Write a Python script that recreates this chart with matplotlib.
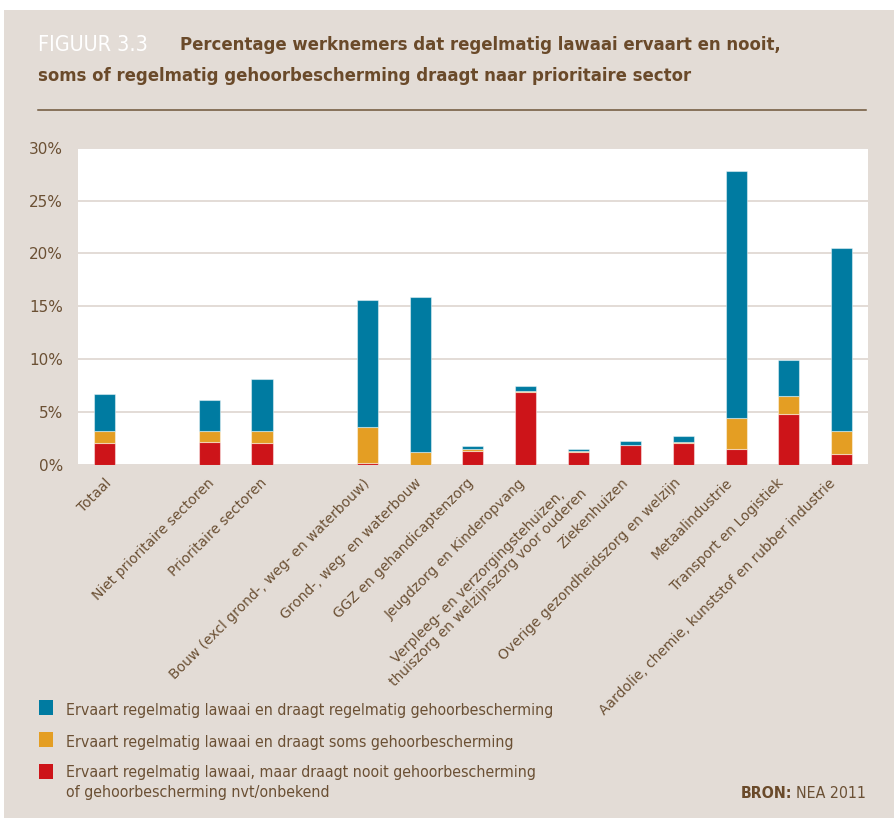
import matplotlib
matplotlib.use("Agg")
import matplotlib.pyplot as plt
from matplotlib.patches import Rectangle
from matplotlib.lines import Line2D
from matplotlib.transforms import ScaledTranslation
import numpy as np

# ---- data (percent of employees) ----
categories = [
    "Totaal",
    "Niet prioritaire sectoren",
    "Prioritaire sectoren",
    "Bouw (excl grond-, weg- en waterbouw)",
    "Grond-, weg- en waterbouw",
    "GGZ en gehandicaptenzorg",
    "Jeugdzorg en Kinderopvang",
    "Verpleeg- en verzorgingstehuizen,\nthuiszorg en welzijnszorg voor ouderen",
    "Ziekenhuizen",
    "Overige gezondheidszorg en welzijn",
    "Metaalindustrie",
    "Transport en Logistiek",
    "Aardolie, chemie, kunststof en rubber industrie",
]
# indices where a new block of bars starts (an empty slot precedes it)
group_starts = [1, 3]

nooit = [2.1, 2.2, 2.1, 0.15, 0.0, 1.35, 6.9, 1.25, 1.85, 2.05, 1.5, 4.8, 1.0]
soms = [1.15, 1.05, 1.15, 3.4, 1.25, 0.15, 0.05, 0.1, 0.05, 0.1, 2.9, 1.75, 2.25]
regelmatig = [3.5, 2.9, 4.9, 12.05, 14.6, 0.3, 0.5, 0.15, 0.4, 0.6, 23.4, 3.4, 17.25]

series_labels = [
    "Ervaart regelmatig lawaai en draagt regelmatig gehoorbescherming",
    "Ervaart regelmatig lawaai en draagt soms gehoorbescherming",
    "Ervaart regelmatig lawaai, maar draagt nooit gehoorbescherming\nof gehoorbescherming nvt/onbekend",
]
yticks = [0, 5, 10, 15, 20, 25, 30]

# ---- style ----
BG = "#e3dcd6"
BROWN = "#6b5034"
TITLE_BROWN = "#6a4a2a"
BLUE = "#007ba1"
ORANGE = "#e49e23"
RED = "#cd1419"
NARROW = ["Liberation Sans Narrow", "DejaVu Sans"]

W, H = 894, 822
fig = plt.figure(figsize=(W / 100, H / 100), dpi=100, facecolor="white")
renderer = fig.canvas.get_renderer()


def fx(px):
    return px / W


def fy(py):
    return 1 - py / H


def fit_width(txt, target_px):
    """Scale a text's font size so its rendered width is target_px."""
    w = txt.get_window_extent(renderer).width
    txt.set_fontsize(txt.get_fontsize() * target_px / w)


# beige panel
fig.patches.append(Rectangle((fx(4), fy(818)), fx(890), (818 - 10) / H,
                             transform=fig.transFigure, facecolor=BG,
                             edgecolor="none", zorder=-5))

# title
t_fig = fig.text(fx(38), fy(45), "FIGUUR 3.3", color="white", fontsize=16,
                 family=NARROW, fontstretch="condensed", va="center", ha="left")
t1 = fig.text(fx(180), fy(45),
              "Percentage werknemers dat regelmatig lawaai ervaart en nooit,",
              color=TITLE_BROWN, fontsize=16, fontweight="bold", family=NARROW,
              fontstretch="condensed", va="center", ha="left")
fit_width(t1, 603)
t2 = fig.text(fx(38), fy(76),
              "soms of regelmatig gehoorbescherming draagt naar prioritaire sector",
              color=TITLE_BROWN, fontsize=t1.get_fontsize(), fontweight="bold",
              family=NARROW, fontstretch="condensed", va="center", ha="left")
fit_width(t_fig, 111)
fig.lines.append(Line2D([fx(38), fx(866)], [fy(110), fy(110)],
                        transform=fig.transFigure, color="#6e5539", lw=1.1))

# ---- axes ----
ax = fig.add_axes([fx(77.7), fy(465), fx(867.7 - 77.7), (465 - 147.7) / H])
ax.set_facecolor("white")

positions = []
slot = 0
for i in range(len(categories)):
    if i in group_starts:
        slot += 1
    positions.append(slot)
    slot += 1
positions = np.array(positions)

nooit_a = np.array(nooit)
soms_a = np.array(soms)
reg_a = np.array(regelmatig)
bw = 0.4
edge = (1, 1, 1, 0.45)
ax.bar(positions, nooit_a, bw, color=RED, edgecolor=edge, lw=0.8, zorder=3)
ax.bar(positions, soms_a, bw, bottom=nooit_a, color=ORANGE,
       edgecolor=edge, lw=0.8, zorder=3)
ax.bar(positions, reg_a, bw, bottom=nooit_a + soms_a, color=BLUE,
       edgecolor=edge, lw=0.8, zorder=3)

ax.set_xlim(-0.5, slot - 0.5)
ax.set_ylim(0, 30)
ax.set_yticks(yticks)
ax.set_yticklabels([f"{v}%" for v in yticks])
ax.yaxis.grid(True, color=BG, lw=1.4, zorder=1)
ax.set_axisbelow(True)
for s in ax.spines.values():
    s.set_visible(False)
ax.tick_params(axis="y", length=0, pad=10.5, labelsize=11, labelcolor=BROWN)
ax.tick_params(axis="x", length=0, pad=8, labelsize=10, labelcolor=BROWN)

ax.set_xticks(positions)
ax.set_xticklabels(categories, rotation=45, ha="right", va="top",
                   rotation_mode="anchor", multialignment="center",
                   linespacing=1.05)
# rotated labels drift slightly left of their ticks towards the right side
for p, lab in zip(positions, ax.get_xticklabels()):
    dx = -13 * p / positions.max()
    lab.set_transform(lab.get_transform()
                      + ScaledTranslation(dx / 100, 0, fig.dpi_scale_trans))

# ---- legend ----
legend_rows = [(BLUE, 707, 710), (ORANGE, 739.5, 742), (RED, 771.5, 774)]
leg_texts = []
for (col, sq_y, txt_y), text in zip(legend_rows, series_labels):
    fig.patches.append(Rectangle((fx(38.8), fy(sq_y + 7.5)), fx(14), 15 / H,
                                 transform=fig.transFigure, facecolor=col,
                                 edgecolor="none"))
    leg_texts.append(fig.text(fx(66.5), fy(txt_y), text, color=BROWN,
                              fontsize=12.5, family=NARROW,
                              fontstretch="condensed", ha="left",
                              va="top" if "\n" in text else "center",
                              linespacing=1.45))
fit_width(leg_texts[0], 489)
for t in leg_texts[1:]:
    t.set_fontsize(leg_texts[0].get_fontsize())
leg_texts[2].set_position((fx(66.5), fy(765)))

# source note
src = fig.text(fx(866), fy(793), "NEA 2011", color=BROWN,
               fontsize=leg_texts[0].get_fontsize(), family=NARROW,
               fontstretch="condensed", ha="right", va="center")
bron_w = src.get_window_extent(renderer).width + 4
fig.text(fx(866), fy(793), "BRON:", color=TITLE_BROWN,
         fontsize=leg_texts[0].get_fontsize(), fontweight="bold",
         family=NARROW, fontstretch="condensed", ha="right", va="center",
         transform=fig.transFigure + ScaledTranslation(-bron_w / 100, 0,
                                                       fig.dpi_scale_trans))

fig.savefig("out.png", dpi=100, facecolor="white")
